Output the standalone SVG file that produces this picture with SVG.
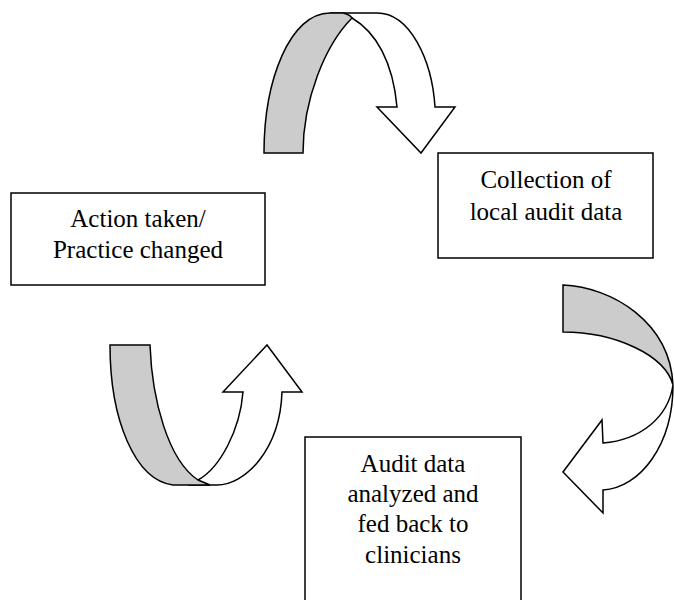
<svg xmlns="http://www.w3.org/2000/svg" width="674" height="600" viewBox="0 0 674 600">
<style>
.box{fill:#fff;stroke:#000;stroke-width:1.5}
.w{fill:#fff;stroke:#000;stroke-width:1.5;stroke-linejoin:miter}
.g{fill:#cccccc;stroke:#000;stroke-width:1.5;stroke-linejoin:miter}
.t{font-family:'Liberation Serif',Tinos,'Times New Roman',Times,'Noto Serif','DejaVu Serif',serif;font-size:25px;fill:#000;text-anchor:middle}
</style>
<rect width="674" height="600" fill="#fff"/>
<g id="connectors">
<g id="arrow-top">
<path class="w" d="M330,13 L377,13 C410,13 432,60 435,107 L455,107 L421,153 L377,107 L397,107 C393,62 376,32 352,18 Z"/>
<path class="g" d="M264,153 C264,80 290,13 330,13 L343,13 Q349,14 352,18 C325,45 303,100 303,153 Z"/>
</g>
<g id="arrow-right">
<path class="w" d="M673,385 C673,445 640,488 603,490 L603,513 L563,472 L602,420 L603,443 C640,440 668,418 673,385 Z"/>
<path class="g" d="M563,285 C612,287 670,322 673,385 C665,355 615,332 563,332 Z"/>
</g>
<g id="arrow-left">
<path class="w" d="M190,485 L217,485 C245,485 280,450 282,392 L302,392 L267,345 L223,392 L243,392 C240,430 220,468 198,480 Z"/>
<path class="g" d="M110,345 L150,345 C152,400 168,460 198,480 L210,485 L173,485 C135,480 110,420 110,345 Z"/>
</g>
</g>
<g id="node-action">
<rect class="box" x="11" y="193" width="254" height="92"/>
<text class="t" x="138" y="227">Action taken/</text>
<text class="t" x="138" y="258">Practice changed</text>
</g>
<g id="node-collection">
<rect class="box" x="438" y="153" width="215" height="105"/>
<text class="t" x="546" y="188">Collection of</text>
<text class="t" x="546" y="220">local audit data</text>
</g>
<g id="node-analyzed">
<rect class="box" x="305" y="437" width="216" height="170"/>
<text class="t" x="413" y="472">Audit data</text>
<text class="t" x="413" y="502">analyzed and</text>
<text class="t" x="413" y="532">fed back to</text>
<text class="t" x="413" y="563">clinicians</text>
</g>
</svg>
